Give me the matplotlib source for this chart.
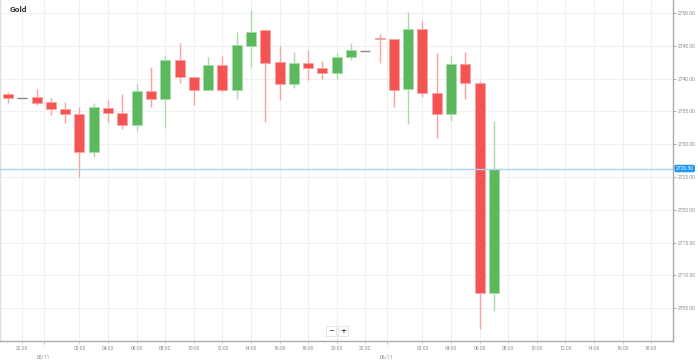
import matplotlib
matplotlib.use("Agg")
import matplotlib.pyplot as plt
import matplotlib.transforms as mtransforms
import numpy as np

# hourly candles, hours counted from 05/11 00:00
hours = list(range(-3, 32))
opens = [2737.66, 2737.0, 2737.15, 2736.48, 2735.42, 2734.61, 2728.86, 2735.57, 2734.81,
         2732.93, 2738.16, 2736.85, 2742.84, 2740.20, 2738.27, 2742.08, 2738.27, 2745.02,
         2747.41, 2742.49, 2739.18, 2742.33, 2741.57, 2740.81, 2743.34, 2744.25, 2746.24,
         2745.99, 2738.37, 2747.52, 2737.85, 2734.56, 2742.23, 2739.38, 2707.28]
highs = [2737.92, 2737.0, 2738.37, 2737.09, 2736.39, 2735.72, 2736.33, 2736.74, 2737.66,
         2739.29, 2741.82, 2743.60, 2745.38, 2740.20, 2743.34, 2743.45, 2747.15, 2750.46,
         2747.41, 2745.02, 2744.10, 2744.36, 2742.69, 2743.95, 2745.38, 2744.25, 2746.80,
         2745.99, 2750.11, 2748.83, 2743.95, 2743.45, 2744.10, 2739.64, 2733.54]
lows = [2736.33, 2737.0, 2735.98, 2734.46, 2733.28, 2725.05, 2728.10, 2733.43, 2732.32,
        2732.06, 2735.63, 2732.52, 2739.29, 2735.98, 2738.27, 2737.92, 2736.85, 2741.82,
        2733.43, 2736.74, 2738.62, 2739.79, 2739.94, 2739.94, 2742.84, 2744.25, 2742.43,
        2735.72, 2733.04, 2737.24, 2731.00, 2733.59, 2736.89, 2701.80, 2704.63]
closes = [2737.00, 2737.0, 2736.33, 2735.42, 2734.61, 2728.86, 2735.63, 2734.81, 2732.93,
          2738.16, 2736.85, 2742.84, 2740.20, 2738.27, 2742.08, 2738.27, 2745.12, 2747.06,
          2742.43, 2739.18, 2742.33, 2741.62, 2740.81, 2743.34, 2744.36, 2744.25, 2745.99,
          2738.27, 2747.52, 2737.76, 2734.56, 2742.23, 2739.29, 2707.38, 2726.30]
last_price = 2726.30

tick_hours = [-2, 2, 4, 6, 8, 10, 12, 14, 16, 18, 20, 22, 26, 28, 30, 32, 34, 36, 38, 40, 42]
tick_labels = ["22:00", "02:00", "04:00", "06:00", "08:00", "10:00", "12:00", "14:00",
               "16:00", "18:00", "20:00", "22:00", "02:00", "04:00", "06:00", "08:00",
               "10:00", "12:00", "14:00", "16:00", "18:00"]
date_hours = [-0.5, 23.5]
date_labels = ["05/11", "06/11"]
price_ticks = [2705, 2710, 2715, 2720, 2725, 2730, 2735, 2740, 2745, 2750]

RED = "#f55454"
GREEN = "#5cb85c"
RED_WICK = "#f9a3a3"
GREEN_WICK = "#a8dba8"
GRID = "#f0f0f0"
TXT = "#8a8a8a"

fig = plt.figure(figsize=(6.98, 3.6), dpi=100)
ax = fig.add_axes([0.0, 19.3 / 360, 673 / 698, 340.7 / 360])
ax.set_xlim(-3.56, 43.53)
ax.set_ylim(2700.06, 2751.98)

# grid
for p in price_ticks:
    ax.axhline(p, color=GRID, lw=0.8, zorder=0)
for h in tick_hours + date_hours:
    ax.axvline(h, color=GRID, lw=0.8, zorder=0)

# candles
for t, o, h, l, c in zip(hours, opens, highs, lows, closes):
    if c > o:
        col, wcol = GREEN, GREEN_WICK
    elif c < o:
        col, wcol = RED, RED_WICK
    else:
        ax.hlines(o, t - 0.35, t + 0.35, color="#888888", lw=1.0, zorder=3)
        continue
    ax.vlines(t, l, h, color=wcol, lw=1.0, zorder=2)
    ax.bar(t, c - o, bottom=o, width=0.7, color=col, edgecolor=wcol,
           linewidth=0.6, zorder=3)

# last price line
ax.axhline(last_price, color="#a9d3f2", lw=1.0, zorder=4)

ax.set_yticks(price_ticks)
ax.set_yticklabels(["%.2f" % p for p in price_ticks])
ax.yaxis.tick_right()
ax.tick_params(axis="y", length=2, width=0.6, color="#999999", pad=1.5,
               labelsize=3.6, labelcolor=TXT)
ax.set_xticks(tick_hours)
ax.set_xticklabels(tick_labels)
ax.tick_params(axis="x", length=2, width=0.6, color="#cccccc", pad=1.5,
               labelsize=3.6, labelcolor=TXT)
for lab in ax.get_xticklabels() + ax.get_yticklabels():
    lab.set_fontfamily("Roboto")

for s in ["top", "left"]:
    ax.spines[s].set_visible(False)
for s in ["right", "bottom"]:
    ax.spines[s].set_color("#aaaaaa")
    ax.spines[s].set_linewidth(1.0)
ax.axvline(-3.56, color="#dddddd", lw=1.0)

# date markers under the axis
trans = mtransforms.blended_transform_factory(ax.transData, ax.transAxes)
for h, d in zip(date_hours, date_labels):
    ax.plot([h, h], [0, -0.017], transform=trans, color="#aaaaaa", lw=0.6,
            ls=(0, (1, 1)), clip_on=False)
    ax.text(h, -0.04, d, transform=trans, ha="center", va="top", fontsize=3.6,
            color=TXT, family="Roboto")

# last price tag
ax.text(1.004, last_price, "%.2f" % last_price, transform=ax.get_yaxis_transform(),
        ha="left", va="center", fontsize=3.6, color="white", family="Roboto",
        bbox=dict(boxstyle="round,pad=0.25,rounding_size=0.3", fc="#2196f3", ec="none"),
        clip_on=False)

# title
fig.text(10 / 698, 1 - 10 / 360, "Gold", ha="left", va="center", fontsize=6,
         fontweight="bold", color="#333333", family="Roboto")

# zoom buttons
for x, s in [(331, "\u2212"), (343, "+")]:
    fig.text(x / 698, 1 - 331 / 360, s, ha="center", va="center", fontsize=5,
             fontweight="bold", color="#444444", family="DejaVu Sans",
             bbox=dict(boxstyle="square,pad=0.3", fc="white", ec="#dddddd", lw=0.5))

fig.savefig("out.png", dpi=100)
